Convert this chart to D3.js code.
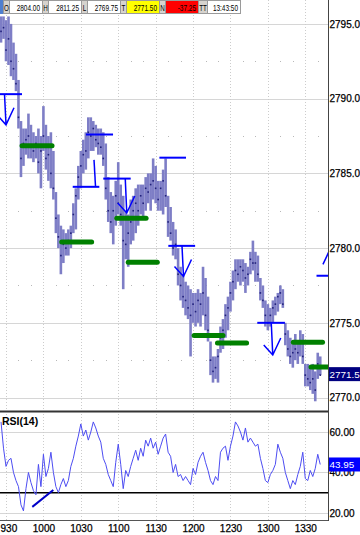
<!DOCTYPE html>
<html>
<head>
<meta charset="utf-8">
<script src="https://cdn.jsdelivr.net/npm/d3@7"></script>
<style>
  html, body { margin: 0; padding: 0; background: #fff; }
  svg { display: block; font-family: "Liberation Sans", Arial, sans-serif; }
</style>
</head>
<body>
<div id="chart"></div>
<script>
// ---- data ----
const barStart = "09:26:00";   // first bar, one bar every 2 minutes
const barHigh = [
  2795.5,2795.5,2795.25,2795.5,2795,2793.75,2793,2791.25,2788.5,2788,
  2788,2789,2788.25,2787.75,2787.5,2788,2787.5,2789.5,2788.25,2787.5,
  2787.75,2786.5,2783.75,2782.25,2781.5,2781.25,2781,2781.25,2781.5,2783,
  2784,2785.5,2786.5,2787.25,2787.75,2788.75,2788.75,2788.5,2788.25,2788,
  2788,2787.75,2787,2784.75,2783.75,2783.5,2784.5,2785.75,2784.25,2783.5,
  2782.5,2782.25,2783.25,2783.5,2784,2784.25,2784.25,2784.25,2784.75,2785,
  2785,2786,2785.5,2784.5,2784.5,2785.25,2786,2783.5,2782.75,2781.75,
  2781.25,2780,2778.75,2778.25,2777.75,2777.5,2777.25,2777,2777,2777.25,
  2777,2778.75,2778,2776.75,2773.75,2772.75,2772.75,2773.25,2774.75,2775.25,
  2776.25,2776.75,2777.75,2778.5,2779.25,2779.25,2779.25,2779.25,2779,2778.75,
  2779.75,2780.5,2779.75,2779.5,2778,2777.5,2776.5,2776.25,2776,2776.5,
  2776.75,2777,2777.5,2777.25,2775,2774.5,2774,2773.75,2774.25,2773.75,
  2774.5,2774.25,2772.25,2772.25,2772,2772.25,2771.75,2773,2772.75
];
const barLow = [
  2793.75,2794,2792.5,2792.25,2791.5,2791.25,2790.5,2788,2784.75,2785.5,
  2786.25,2786,2786,2785.75,2786,2785,2784,2786.5,2785.25,2784.5,
  2784,2783.25,2781,2780,2778.25,2779,2779.5,2779.5,2780,2781,
  2781.25,2783.25,2784,2785,2785.25,2786,2786.5,2786.5,2786.75,2786.25,
  2786.25,2785.5,2783.25,2781.75,2781,2780.25,2781.5,2782.25,2781.5,2777.25,
  2779.25,2778.75,2780.25,2780.5,2781,2781.5,2782.25,2782,2782.5,2783,
  2782.5,2783.25,2783,2782.5,2782.5,2782.25,2782.75,2780.75,2780.5,2779.5,
  2779.25,2777.5,2776.5,2776,2775.5,2775.25,2772.75,2775,2774.75,2775,
  2774.75,2775.5,2774.5,2773.75,2771.5,2771,2771.25,2771,2773,2773.25,
  2774,2774.5,2775.75,2776.5,2777.25,2777.75,2777.5,2777.75,2777,2777.5,
  2778.25,2778.5,2777.75,2777.75,2776.5,2776,2774.75,2774.5,2774.75,2775,
  2775.5,2775.75,2776.25,2776,2773.5,2772.75,2772.25,2772,2772.5,2772.25,
  2772.75,2772.25,2770.75,2770.75,2770.5,2770.25,2769.75,2771.25,2771.5
];
const barClose = [
  2794.5,2794.75,2793.25,2794,2792.5,2792,2791,2788.75,2786,2787,
  2787.25,2787.5,2786.75,2786.5,2787,2785.75,2786.5,2787.5,2786,2786.25,
  2785,2784,2782,2780.75,2779.5,2780.25,2780,2780.5,2781,2782.25,
  2783.5,2784.75,2785.5,2786.25,2786.5,2787.75,2787.5,2788,2787.25,2787,
  2786.75,2786,2784,2782.5,2781.75,2782.5,2783.5,2783,2782.25,2780.5,
  2780.25,2781,2781.75,2782.5,2783,2782.5,2783.5,2783,2784,2783.75,
  2784.25,2784.5,2784,2783.25,2784,2784.5,2783.5,2781.75,2781,2780,
  2780.25,2778.25,2777.5,2776.75,2776.5,2776,2775.5,2776.25,2775.75,2776.5,
  2776.25,2777,2775.5,2774.5,2772.5,2771.75,2772,2772.75,2774,2774.5,
  2775.5,2776,2777,2777.75,2778.5,2778.25,2778.75,2778.5,2778,2778.25,
  2779.25,2779,2779,2778.25,2777,2776.5,2775.5,2775,2775.5,2776,
  2776.25,2776.75,2777,2776.25,2774.25,2773.25,2772.75,2773,2773.25,2773,
  2773.75,2772.75,2771.5,2771.25,2771,2771.25,2770.5,2772.25,2771.5
];
const rsiValues = [
  65,52,43,46,47,40,36,33,24,21,
  32,40,35,31,29,44,33,49,38,42,
  50,40,33,30,34,37,33,36,43,47,
  53,58,64,58,61,56,60,65,62,58,
  55,47,44,39,36,33,45,54,44,32,
  41,38,43,47,51,46,52,48,56,53,
  57,52,55,49,53,57,59,50,48,40,
  44,38,39,36,38,36,34,42,39,45,
  48,50,45,41,36,34,38,36,50,52,
  53,46,53,58,65,63,60,56,62,55,
  57,55,53,54,47,42,36,35,39,41,
  44,54,50,47,40,36,32,36,34,39,
  43,50,37,36,41,38,42,49,43.95
];

const priceTicks = [2770, 2775, 2780, 2785, 2790, 2795];
const rsiTicks = [20, 40, 60];
const rsiLevel = 30;

// blue levels: [from, to, price]
const blueLevels = [
  ["09:25:00", "09:42:50", 2790.3],
  ["10:34:10", "10:55:50", 2787.6],
  ["10:23:30", "10:44:50", 2784.1],
  ["10:48:00", "11:10:00", 2784.65],
  ["11:33:00", "11:54:20", 2786.05],
  ["11:40:10", "12:01:40", 2780.15],
  ["12:51:30", "13:13:40", 2775.0],
  ["13:39:00", "13:51:00", 2778.15]
];
// arrows: [time, from price, to price, has head]
const arrows = [
  ["09:30:00", 2790.3, 2788.25, true],
  ["10:40:35", 2784.1, 2785.9, false],
  ["11:06:50", 2784.65, 2782.35, true],
  ["11:52:20", 2780.15, 2778.1, true],
  ["13:03:55", 2775.0, 2772.85, true],
  ["13:50:35", 2778.15, 2780.05, true]
];
// green levels: [from, to, price]
const greenLevels = [
  ["09:42:50", "10:06:55", 2786.85],
  ["10:14:40", "10:38:40", 2780.4],
  ["10:58:50", "11:22:20", 2782.0],
  ["11:08:00", "11:31:20", 2779.05],
  ["12:00:50", "12:24:00", 2774.15],
  ["12:19:35", "12:42:55", 2773.65],
  ["13:20:25", "13:43:50", 2773.7],
  ["13:34:35", "13:50:00", 2772.05]
];
const rsiTrend = [["09:51:05", 23.0], ["10:07:55", 31.3]];

const lastPrice = 2771.5;
const lastRsi = 43.95;

const headerLabels = ["O", "H", "L", "T", "N", "TT"];
const headerValues = ["2804.00", "2811.25", "2769.75", "2771.50", "-37.25", "13:43:50"];
const headerFills = ["#ffffff", "#ffffff", "#ffffff", "#ffff00", "#ff0000", "#ffffff"];

// ---- layout ----
const W = 360, H = 535;
const axisX = 328;
const priceTop = 0, priceBottom = 411;
const rsiTop = 412, rsiBottom = 520;

const parse = d3.timeParse("%H:%M:%S");
const t0 = parse(barStart);
const bars = barHigh.map((h, i) => ({
  t: d3.timeMinute.offset(t0, 2 * i),
  high: h, low: barLow[i], close: barClose[i], rsi: rsiValues[i]
}));

const x = d3.scaleTime()
    .domain([parse("09:25:11"), parse("13:48:13")])
    .range([0, axisX]);
const yP = d3.scaleLinear().domain([2769.1, 2796.6]).range([priceBottom, priceTop]);
const yR = d3.scaleLinear().domain([16.5, 69.9]).range([rsiBottom, rsiTop]);

const svg = d3.select("#chart").append("svg")
    .attr("width", W)
    .attr("height", H);

const defs = svg.append("defs");
defs.append("clipPath").attr("id", "clipP")
  .append("rect").attr("x", 0).attr("y", priceTop).attr("width", axisX).attr("height", priceBottom - priceTop);
defs.append("clipPath").attr("id", "clipR")
  .append("rect").attr("x", 0).attr("y", rsiTop).attr("width", axisX).attr("height", rsiBottom - rsiTop);

// grid
const grid = svg.append("g");
grid.selectAll("line.hp")
  .data(priceTicks)
  .join("line")
    .attr("x1", 0).attr("x2", axisX)
    .attr("y1", d => Math.round(yP(d)) + 0.5).attr("y2", d => Math.round(yP(d)) + 0.5)
    .attr("stroke", "#d6d6d6");

grid.selectAll("line.hr")
  .data(rsiTicks)
  .join("line")
    .attr("x1", 0).attr("x2", axisX)
    .attr("y1", d => Math.round(yR(d)) + 0.5).attr("y2", d => Math.round(yR(d)) + 0.5)
    .attr("stroke", "#d6d6d6");

const timeTicks = x.ticks(d3.timeMinute.every(30));
grid.selectAll("line.v")
  .data(timeTicks)
  .join("line")
    .attr("x1", d => Math.round(x(d)) + 0.5).attr("x2", d => Math.round(x(d)) + 0.5)
    .attr("y1", 0).attr("y2", rsiBottom)
    .attr("stroke", "#cccccc")
    .attr("stroke-dasharray", "1,2");

// minor grid dots at half levels
const minorTimes = x.ticks(d3.timeMinute.every(10)).filter(d => d.getMinutes() % 30 !== 0);
const halfLevels = priceTicks.map(d => d + 2.5).filter(d => yP(d) > 0);
const dots = [];
halfLevels.forEach(p => minorTimes.forEach(t => dots.push([t, p])));
grid.selectAll("rect.dot")
  .data(dots)
  .join("rect")
    .attr("x", d => Math.round(x(d[0])))
    .attr("y", d => Math.round(yP(d[1])))
    .attr("width", 1).attr("height", 1)
    .attr("fill", "#b8b8b8");

// price bars
const gBars = svg.append("g").attr("clip-path", "url(#clipP)");
gBars.selectAll("line")
  .data(bars)
  .join("line")
    .attr("x1", d => x(d.t)).attr("x2", d => x(d.t))
    .attr("y1", d => yP(d.high)).attr("y2", d => yP(d.low))
    .attr("stroke", "#7e7ec6")
    .attr("stroke-width", 2.6);
gBars.selectAll("rect")
  .data(bars)
  .join("rect")
    .attr("x", d => x(d.t) - 0.8)
    .attr("y", d => yP(d.close) - 0.8)
    .attr("width", 1.6).attr("height", 1.6)
    .attr("fill", "#20207a");

// annotations
const gAnn = svg.append("g").attr("clip-path", "url(#clipP)");
gAnn.selectAll("line.green")
  .data(greenLevels)
  .join("line")
    .attr("x1", d => x(parse(d[0]))).attr("x2", d => x(parse(d[1])))
    .attr("y1", d => yP(d[2])).attr("y2", d => yP(d[2]))
    .attr("stroke", "#008000")
    .attr("stroke-width", 5)
    .attr("stroke-linecap", "round");

gAnn.selectAll("line.blue")
  .data(blueLevels)
  .join("line")
    .attr("x1", d => x(parse(d[0]))).attr("x2", d => x(parse(d[1])))
    .attr("y1", d => yP(d[2])).attr("y2", d => yP(d[2]))
    .attr("stroke", "#0000ff")
    .attr("stroke-width", 2);

arrows.forEach(a => {
  const ax = x(parse(a[0]));
  const y1 = yP(a[1]), y2 = yP(a[2]);
  const dir = y2 > y1 ? 1 : -1;
  const path = d3.path();
  path.moveTo(ax - 1.5 * dir, y1);
  path.lineTo(ax, y2);
  if (a[3]) {
    path.moveTo(ax - 9 * dir, y2 - 10 * dir);
    path.lineTo(ax, y2);
    path.lineTo(ax + 8 * dir, y2 - 17 * dir);
  }
  gAnn.append("path")
    .attr("d", path.toString())
    .attr("fill", "none")
    .attr("stroke", "#0000ff")
    .attr("stroke-width", 1.5);
});

// rsi
const gRsi = svg.append("g").attr("clip-path", "url(#clipR)");
gRsi.append("line")
    .attr("x1", 0).attr("x2", axisX)
    .attr("y1", yR(rsiLevel)).attr("y2", yR(rsiLevel))
    .attr("stroke", "#000")
    .attr("stroke-width", 1.5);
gRsi.append("path")
    .datum(bars)
    .attr("fill", "none")
    .attr("stroke", "#4d4df2")
    .attr("stroke-width", 1)
    .attr("d", d3.line().x(d => x(d.t)).y(d => yR(d.rsi)));
gRsi.append("line")
    .attr("x1", x(parse(rsiTrend[0][0]))).attr("y1", yR(rsiTrend[0][1]))
    .attr("x2", x(parse(rsiTrend[1][0]))).attr("y2", yR(rsiTrend[1][1]))
    .attr("stroke", "#0000c8")
    .attr("stroke-width", 2);

svg.append("text")
    .attr("x", 2).attr("y", 425)
    .attr("font-size", 10.5)
    .attr("font-weight", "bold")
    .attr("fill", "#000")
    .text("RSI(14)");

// frame lines
svg.append("line")
    .attr("x1", 0).attr("x2", axisX).attr("y1", 411.5).attr("y2", 411.5)
    .attr("stroke", "#333").attr("stroke-width", 2);
svg.append("line")
    .attr("x1", 0).attr("x2", axisX).attr("y1", rsiBottom + 0.5).attr("y2", rsiBottom + 0.5)
    .attr("stroke", "#555");
svg.append("line")
    .attr("x1", axisX + 0.5).attr("x2", axisX + 0.5).attr("y1", 0).attr("y2", rsiBottom + 1)
    .attr("stroke", "#444");

// axes
const fontAxis = g => g.attr("font-family", null).attr("font-size", 10)
    .call(s => s.select(".domain").remove())
    .call(s => s.selectAll("text").attr("fill", "#000").attr("stroke", "#000").attr("stroke-width", 0.25));

svg.append("g")
    .attr("transform", `translate(${axisX},0)`)
    .call(d3.axisRight(yP).tickValues(priceTicks).tickFormat(d3.format(".1f")).tickSize(0).tickPadding(1.5))
    .call(fontAxis);

svg.append("g")
    .attr("transform", `translate(${axisX},0)`)
    .call(d3.axisRight(yR).tickValues(rsiTicks).tickFormat(d3.format(".2f")).tickSize(0).tickPadding(1.5))
    .call(fontAxis);

const xAxis = svg.append("g")
    .attr("transform", `translate(0,${rsiBottom})`)
    .call(d3.axisBottom(x).tickValues(timeTicks).tickFormat(d3.timeFormat("%-H%M")).tickSize(0).tickPadding(5))
    .call(fontAxis);
xAxis.selectAll("text").each(function(d) {
  const w = this.getComputedTextLength();
  const cx = x(d);
  if (cx - w / 2 < 0) d3.select(this).attr("x", w / 2 - cx);
});

// last value boxes
const boxes = [
  { y: yP(lastPrice) - 1, text: d3.format(".1f")(lastPrice), fill: "#000080" },
  { y: yR(lastRsi), text: d3.format(".2f")(lastRsi), fill: "#0000ff" }
];
const gBox = svg.append("g").selectAll("g").data(boxes).join("g");
gBox.append("rect")
    .attr("x", axisX + 1).attr("y", d => d.y - 7)
    .attr("width", W - axisX - 1).attr("height", 14)
    .attr("fill", d => d.fill);
gBox.append("text")
    .attr("x", axisX + 1.5).attr("y", d => d.y).attr("dy", "0.35em")
    .attr("font-size", 9.9).attr("fill", "#fff")
    .text(d => d.text);

// quote header
const header = svg.append("g");
header.append("rect").attr("x", 0).attr("y", 0).attr("width", 3).attr("height", 14).attr("fill", "#4f7fd0");
let hx = 3;
headerLabels.forEach((lab, i) => {
  const lw = lab.length > 1 ? 9 : 6, vw = 33;
  header.append("rect")
      .attr("x", hx + 0.5).attr("y", 0.5).attr("width", lw).attr("height", 13)
      .attr("fill", "#d6d3ce").attr("stroke", "#9a9a9a");
  header.append("text")
      .attr("transform", `translate(${hx + lw / 2 + 0.5},10.5) scale(0.7,1)`)
      .attr("text-anchor", "middle").attr("font-size", 9).attr("fill", "#000")
      .text(lab);
  hx += lw;
  header.append("rect")
      .attr("x", hx + 0.5).attr("y", 0.5).attr("width", vw).attr("height", 13)
      .attr("fill", headerFills[i]).attr("stroke", "#9a9a9a");
  header.append("text")
      .attr("transform", `translate(${hx + vw - 2},10.5) scale(0.68,1)`)
      .attr("text-anchor", "end").attr("font-size", 9.5).attr("fill", "#000")
      .text(headerValues[i]);
  hx += vw;
});
</script>
</body>
</html>
